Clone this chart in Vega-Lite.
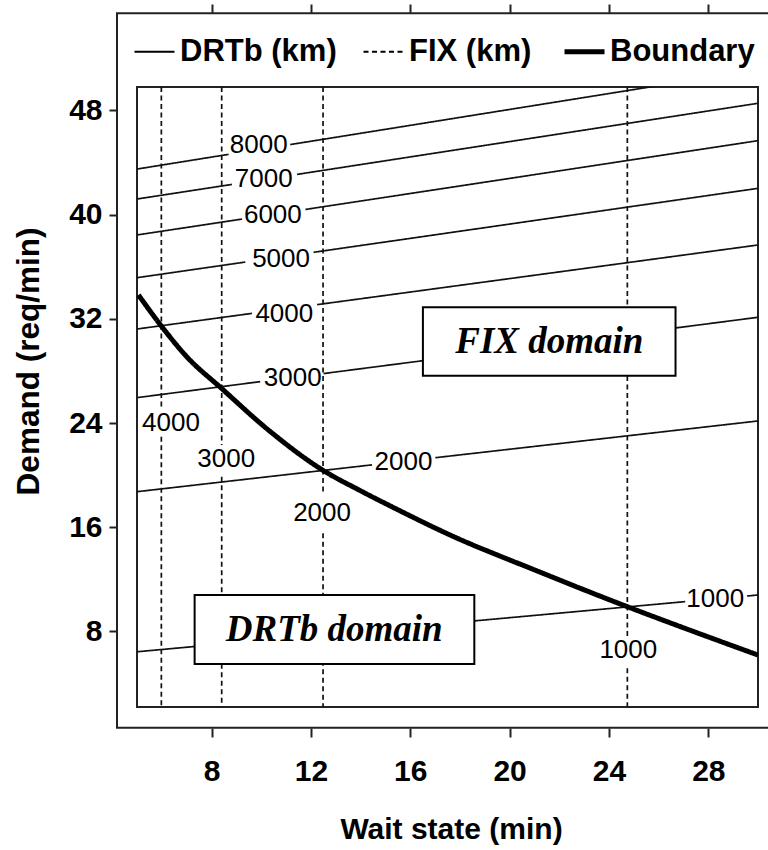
{
  "$schema": "https://vega.github.io/schema/vega-lite/v6.json",
  "autosize": {"type": "none"},
  "padding": {"left": 137, "top": 87, "right": 10, "bottom": 143},
  "width": 621,
  "height": 620,
  "background": "white",
  "config": {
    "view": {"stroke": "#222", "strokeWidth": 2},
    "font": "Liberation Sans",
    "axis": {"labelFont": "Liberation Sans", "titleFont": "Liberation Sans", "labelColor": "black", "titleColor": "black", "tickColor": "#222", "grid": false, "domain": false},
    "legend": {
      "orient": "none", "legendX": 2, "legendY": -51, "direction": "horizontal", "columns": 3,
      "title": null, "symbolType": "stroke", "symbolSize": 1600, "symbolStrokeColor": "black",
      "labelFont": "Liberation Sans", "labelFontSize": 31, "labelFontWeight": "bold", "labelColor": "black",
      "labelOffset": 10, "columnPadding": 22, "padding": 0, "labelLimit": 400
    }
  },
  "datasets": {
    "lines": [
      {"series": "DRTb (km)", "seg": "d8000a", "x": 5, "y": 43.5},
      {"series": "DRTb (km)", "seg": "d8000a", "x": 8.69, "y": 44.63},
      {"series": "DRTb (km)", "seg": "d8000b", "x": 11.17, "y": 45.38},
      {"series": "DRTb (km)", "seg": "d8000b", "x": 30, "y": 51.13},
      {"series": "DRTb (km)", "seg": "d7000a", "x": 5, "y": 41.2},
      {"series": "DRTb (km)", "seg": "d7000a", "x": 8.82, "y": 42.32},
      {"series": "DRTb (km)", "seg": "d7000b", "x": 11.44, "y": 43.09},
      {"series": "DRTb (km)", "seg": "d7000b", "x": 30, "y": 48.55},
      {"series": "DRTb (km)", "seg": "d6000a", "x": 5, "y": 38.44},
      {"series": "DRTb (km)", "seg": "d6000a", "x": 9.23, "y": 39.66},
      {"series": "DRTb (km)", "seg": "d6000b", "x": 11.78, "y": 40.4},
      {"series": "DRTb (km)", "seg": "d6000b", "x": 30, "y": 45.68},
      {"series": "DRTb (km)", "seg": "d5000a", "x": 5, "y": 35.16},
      {"series": "DRTb (km)", "seg": "d5000a", "x": 9.36, "y": 36.36},
      {"series": "DRTb (km)", "seg": "d5000b", "x": 12.11, "y": 37.11},
      {"series": "DRTb (km)", "seg": "d5000b", "x": 30, "y": 42.02},
      {"series": "DRTb (km)", "seg": "d4000a", "x": 5, "y": 31.22},
      {"series": "DRTb (km)", "seg": "d4000a", "x": 9.63, "y": 32.42},
      {"series": "DRTb (km)", "seg": "d4000b", "x": 12.25, "y": 33.09},
      {"series": "DRTb (km)", "seg": "d4000b", "x": 30, "y": 37.67},
      {"series": "DRTb (km)", "seg": "d3000a", "x": 5, "y": 25.95},
      {"series": "DRTb (km)", "seg": "d3000a", "x": 9.96, "y": 27.18},
      {"series": "DRTb (km)", "seg": "d3000b", "x": 12.51, "y": 27.8},
      {"series": "DRTb (km)", "seg": "d3000b", "x": 30, "y": 32.12},
      {"series": "DRTb (km)", "seg": "d2000a", "x": 5, "y": 18.73},
      {"series": "DRTb (km)", "seg": "d2000a", "x": 14.46, "y": 20.79},
      {"series": "DRTb (km)", "seg": "d2000b", "x": 17.01, "y": 21.34},
      {"series": "DRTb (km)", "seg": "d2000b", "x": 30, "y": 24.16},
      {"series": "DRTb (km)", "seg": "d1000a", "x": 5, "y": 6.44},
      {"series": "DRTb (km)", "seg": "d1000a", "x": 27.07, "y": 10.29},
      {"series": "DRTb (km)", "seg": "d1000b", "x": 29.56, "y": 10.72},
      {"series": "DRTb (km)", "seg": "d1000b", "x": 30, "y": 10.8},
      {"series": "FIX (km)", "seg": "f4000a", "x": 5.98, "y": 49.8},
      {"series": "FIX (km)", "seg": "f4000a", "x": 5.98, "y": 25.0},
      {"series": "FIX (km)", "seg": "f4000b", "x": 5.98, "y": 22.95},
      {"series": "FIX (km)", "seg": "f4000b", "x": 5.98, "y": 2.2},
      {"series": "FIX (km)", "seg": "f3000a", "x": 8.41, "y": 49.8},
      {"series": "FIX (km)", "seg": "f3000a", "x": 8.41, "y": 22.31},
      {"series": "FIX (km)", "seg": "f3000b", "x": 8.41, "y": 19.88},
      {"series": "FIX (km)", "seg": "f3000b", "x": 8.41, "y": 2.2},
      {"series": "FIX (km)", "seg": "f2000a", "x": 12.49, "y": 49.8},
      {"series": "FIX (km)", "seg": "f2000a", "x": 12.49, "y": 18.48},
      {"series": "FIX (km)", "seg": "f2000b", "x": 12.49, "y": 15.54},
      {"series": "FIX (km)", "seg": "f2000b", "x": 12.49, "y": 2.2},
      {"series": "FIX (km)", "seg": "f1000a", "x": 24.74, "y": 49.8},
      {"series": "FIX (km)", "seg": "f1000a", "x": 24.74, "y": 7.6},
      {"series": "FIX (km)", "seg": "f1000b", "x": 24.74, "y": 5.17},
      {"series": "FIX (km)", "seg": "f1000b", "x": 24.74, "y": 2.2}
    ],
    "boundary": [
      {"series": "Boundary", "x": 5.06, "y": 33.83},
      {"series": "Boundary", "x": 5.98, "y": 31.45},
      {"series": "Boundary", "x": 7.0, "y": 29.1},
      {"series": "Boundary", "x": 8.41, "y": 26.65},
      {"series": "Boundary", "x": 10.3, "y": 23.45},
      {"series": "Boundary", "x": 12.49, "y": 20.37},
      {"series": "Boundary", "x": 14.0, "y": 18.8},
      {"series": "Boundary", "x": 15.6, "y": 17.25},
      {"series": "Boundary", "x": 17.61, "y": 15.4},
      {"series": "Boundary", "x": 20.97, "y": 12.75},
      {"series": "Boundary", "x": 24.74, "y": 9.9},
      {"series": "Boundary", "x": 27.4, "y": 8.0},
      {"series": "Boundary", "x": 30, "y": 6.19}
    ],
    "labels": [
      {"label": "8000", "x": 9.9, "y": 45.35},
      {"label": "7000", "x": 10.1, "y": 42.74},
      {"label": "6000", "x": 10.47, "y": 39.97},
      {"label": "5000", "x": 10.8, "y": 36.57},
      {"label": "4000", "x": 10.93, "y": 32.37},
      {"label": "3000", "x": 11.27, "y": 27.46},
      {"label": "2000", "x": 15.73, "y": 21.03},
      {"label": "1000", "x": 28.28, "y": 10.47},
      {"label": "4000", "x": 6.37, "y": 23.98},
      {"label": "3000", "x": 8.59, "y": 21.24},
      {"label": "2000", "x": 12.45, "y": 17.07},
      {"label": "1000", "x": 24.78, "y": 6.58}
    ],
    "domains": [
      {"label": "FIX domain", "x": 16.51, "x2": 26.68, "y": 27.64, "y2": 32.89, "tx": 21.6, "ty": 30.26},
      {"label": "DRTb domain", "x": 7.32, "x2": 18.58, "y": 5.5, "y2": 10.8, "tx": 12.94, "ty": 8.15}
    ],
    "frame": [
      {"x": 4.195, "x2": 30.5, "y": 0.61, "y2": 55.46}
    ]
  },
  "resolve": {"axis": {"x": "independent"}},
  "layer": [
    {
      "data": {"name": "lines"},
      "mark": {"type": "line", "clip": true, "color": "#111", "strokeWidth": 1.7},
      "encoding": {
        "x": {"field": "x", "type": "quantitative",
          "scale": {"domain": [5, 30], "nice": false, "zero": false},
          "axis": {"orient": "bottom", "offset": 21, "values": [8, 12, 16, 20, 24, 28], "tickSize": 9, "tickWidth": 2,
            "labelFontSize": 30, "labelFontWeight": "bold", "labelPadding": 19, "labelDx": 4,
            "title": "Wait state (min)", "titleFontSize": 30, "titleFontWeight": "bold",
            "titleX": 314, "titleY": 110, "titleBaseline": "alphabetic", "titleAlign": "center"}},
        "y": {"field": "y", "type": "quantitative",
          "scale": {"domain": [2.2, 49.8], "nice": false, "zero": false},
          "axis": {"orient": "left", "offset": 20, "values": [8, 16, 24, 32, 40, 48], "tickSize": 8, "tickWidth": 2,
            "labelFontSize": 30, "labelFontWeight": "bold", "labelPadding": 7,
            "title": "Demand (req/min)", "titleFontSize": 31.5, "titleFontWeight": "bold",
            "titleAngle": 270, "titleX": -79, "titleY": 274, "titleBaseline": "alphabetic", "titleAlign": "center"}},
        "detail": {"field": "seg", "type": "nominal"},
        "strokeDash": {"field": "series", "type": "nominal",
          "scale": {"domain": ["DRTb (km)", "FIX (km)", "Boundary"], "range": [[1, 0], [5, 3.5], [1, 0]]},
          "legend": {"symbolStrokeWidth": {"expr": "datum.value == 'Boundary' ? 5 : 1.8"}}}
      }
    },
    {
      "data": {"name": "boundary"},
      "mark": {"type": "line", "clip": true, "color": "black", "strokeWidth": 5, "interpolate": "monotone"},
      "encoding": {
        "x": {"field": "x", "type": "quantitative",
          "axis": {"orient": "top", "offset": 74, "values": [8, 12, 16, 20, 24, 28], "tickSize": 9, "tickWidth": 2, "labels": false, "title": null}},
        "y": {"field": "y", "type": "quantitative"},
        "strokeDash": {"field": "series", "type": "nominal", "legend": null}
      }
    },
    {
      "data": {"name": "labels"},
      "mark": {"type": "text", "font": "Liberation Sans", "fontSize": 26, "color": "black"},
      "encoding": {
        "x": {"field": "x", "type": "quantitative", "axis": null},
        "y": {"field": "y", "type": "quantitative"},
        "text": {"field": "label", "type": "nominal"}
      }
    },
    {
      "data": {"name": "domains"},
      "mark": {"type": "rect", "fill": "white", "stroke": "black", "strokeWidth": 2},
      "encoding": {
        "x": {"field": "x", "type": "quantitative", "axis": null},
        "x2": {"field": "x2"},
        "y": {"field": "y", "type": "quantitative"},
        "y2": {"field": "y2"}
      }
    },
    {
      "data": {"name": "domains"},
      "mark": {"type": "text", "font": "Liberation Serif", "fontSize": 37, "fontStyle": "italic", "fontWeight": "bold", "color": "black"},
      "encoding": {
        "x": {"field": "tx", "type": "quantitative", "axis": null},
        "y": {"field": "ty", "type": "quantitative"},
        "text": {"field": "label", "type": "nominal"}
      }
    },
    {
      "data": {"name": "frame"},
      "mark": {"type": "rect", "fill": null, "stroke": "#222", "strokeWidth": 2},
      "encoding": {
        "x": {"field": "x", "type": "quantitative", "axis": null},
        "x2": {"field": "x2"},
        "y": {"field": "y", "type": "quantitative"},
        "y2": {"field": "y2"}
      }
    }
  ]
}
